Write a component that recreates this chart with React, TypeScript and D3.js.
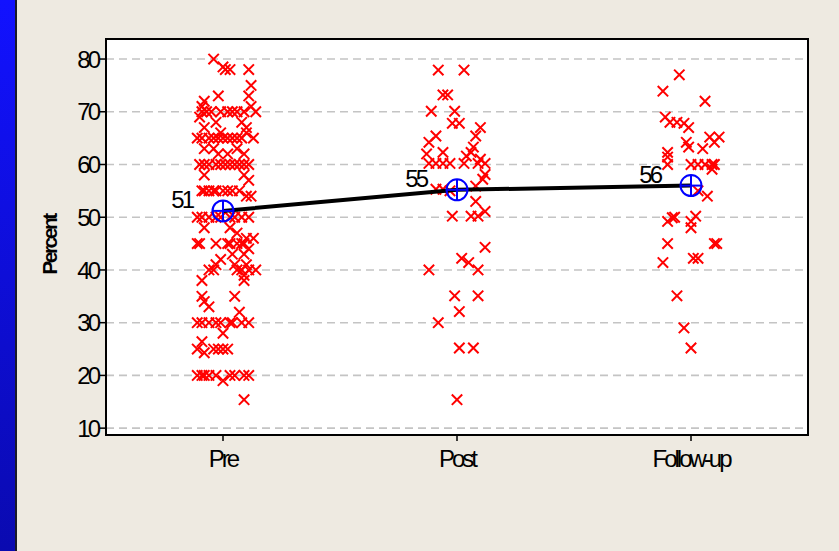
import React from "react";
import * as d3 from "d3";

const categories = ["Pre", "Post", "Follow-up"];
const yTicks = [10, 20, 30, 40, 50, 60, 70, 80];
const means = [51.2, 55.2, 56.0];
const meanLabels = ["51", "55", "56"];

// [jitter (hundredths of a category), percent]
const prePoints: [number, number][] = [
  [-4,80],[0,78.5],[1,78],[3,78],[11,78],[12,75],[11,73],[-2,73],[-8,72],[-9,71],[-9,70],[-7,70],[-5,70],[-1,70],[2,70],[4,70],[6,70],[9,70],[12,71],[14,70],[-10,69],[-8,67],[-3,68],[-1,66],[8,68],[10,67],
  [-11,65],[-9,65],[-6,65],[-4,65],[-2,65],[0,65],[2,65],[4,65],[6,65],[8,65],[10,66],[13,65],
  [-8,63],[-4,63],[-2,62],[2,62],[6,63],[9,62],
  [-10,60],[-8,60],[-6,60],[-3,60],[-1,60],[1,60],[3,60],[5,60],[7,60],[9,60],[11,60],
  [-8,58],[9,58],[11,57],
  [-9,55],[-8,55],[-6,55],[-4,55],[-3,55],[0,55],[2,55],[4,55],[7,55],
  [10,54],[12,54],
  [-11,50],[-9,50],[-6,50],[-3,50],[-1,50],[3,50],[5,50],[8,50],[11,50],
  [-8,48],[3,48],[6,47],[10,46],[13,46],
  [-11,45],[-10,45],[-3,45],[2,45],[3,45],[6,45],[8,45],[9,45],[11,44],
  [4,43],[9,43],[10,41],[-1,42],[-3,41],[5,41],[11,40],[14,40],
  [-6,40],[-4,40],[6,40],[8,40],[9,39],[-9,38],[9,38],
  [-9,35],[-8,34],[-6,33],[5,35],[7,32],
  [-11,30],[-9,30],[-6,30],[-3,30],[-1,30],[3,30],[4,30],[8,30],[11,30],[0,28],
  [-11,25],[-9,26.4],[-8,24.3],[-4,25],[-2,25],[0,25],[2,25],
  [-11,20],[-9,20],[-8,20],[-6,20],[-3,20],[0,19],[3,20],[5,20],[9,20],[11,20],
  [9,15.4],
];

const postPoints: [number, number][] = [
  [-8,77.9],[3,77.9],[-6,73.2],[-4,73.2],[-11,70.1],[-1,70.1],[-2,67.8],[1,67.8],[10,67],[8,65.4],[-9,65.4],[-12,64.2],[7,63.3],[6,62.3],[-6,62.3],[-13,62],[4,61.6],
  [-12,60.2],[-9,60.2],[-6,60.2],[-3,60.2],[3,60.2],[9,60.2],[12,60.2],[10,61],[12,58.1],[11,57.2],
  [-9,55.3],[-6,55.3],[-3,55],[8,55.9],[8,53],[12,51.1],[9,50.2],[-2,50.2],[6,50.2],
  [12,44.3],[2,42.2],[5,41.4],[9,40],[-12,40],[-1,35.1],[9,35.1],[1,32.1],[-8,30],[1,25.2],[7,25.2],[0,15.4],
];

const followPoints: [number, number][] = [
  [-5,77],[-12,73.9],[6,72],[-11,69],[-9,68],[-6,68],[-3,67.8],[-1,67],[8,65.2],[12,65.2],[10,64.2],[-2,64.2],[-1,63.3],[5,63],[-10,62.3],[-10,61.4],[-10,60],
  [0,60],[3,60],[6,60],[9,60],[10,60],[9,59.1],[3,55],[7,54],
  [-10,49.2],[-8,49.9],[-7,50],[0,49.2],[2,50.2],[0,48],
  [-10,45],[10,45],[11,45],[1,42.2],[3,42.2],[-12,41.4],[-6,35.1],[-3,29],[0,25.2],
];

const groups = [prePoints, postPoints, followPoints];

const W = 839;
const H = 551;
const plot = { left: 106, right: 808, top: 39, bottom: 435 };
const FONT = "'Liberation Sans', Arial, sans-serif";

export default function App() {
  const x = d3.scaleLinear().domain([0, 3]).range([plot.left, plot.right]);
  const y = d3.scaleLinear().domain([8.7, 83.8]).range([plot.bottom, plot.top]);
  const cx = (i: number, j = 0) => x(i + 0.5 + j / 100);

  const line = d3
    .line<number>()
    .x((_, i) => cx(i))
    .y((d) => y(d));

  const xs = 5.2;
  return (
    <svg
      width={W}
      height={H}
      style={{ position: "absolute", left: 0, top: 0, display: "block" }}
    >
      <defs>
        <linearGradient id="blueStrip" x1="0" y1="0" x2="0" y2="1">
          <stop offset="0" stopColor="#1212FF" />
          <stop offset="1" stopColor="#0A0AB0" />
        </linearGradient>
        <clipPath id="plotClip">
          <rect x={plot.left} y={plot.top} width={plot.right - plot.left} height={plot.bottom - plot.top} />
        </clipPath>
      </defs>
      <rect x={0} y={0} width={W} height={H} fill="#EEEAE1" />
      <rect x={0} y={0} width={15} height={H} fill="url(#blueStrip)" />
      <rect x={15} y={0} width={2} height={H} fill="#1a1a2a" />

      <rect
        x={plot.left}
        y={plot.top}
        width={plot.right - plot.left}
        height={plot.bottom - plot.top}
        fill="#ffffff"
      />
      {yTicks.map((t) => (
        <g key={t}>
          <line
            x1={plot.left}
            x2={plot.right}
            y1={y(t)}
            y2={y(t)}
            stroke="#C4C4C4"
            strokeWidth={1.6}
            strokeDasharray="8,5"
          />
          <line x1={plot.left - 6} x2={plot.left} y1={y(t)} y2={y(t)} stroke="#000" strokeWidth={1.5} />
          <text
            x={plot.left - 8}
            y={y(t)}
            dy="0.36em"
            textAnchor="end"
            fontFamily={FONT}
            fontSize={24}
            letterSpacing={-3}
            fill="#000"
          >
            {t}
          </text>
        </g>
      ))}
      {categories.map((c, i) => (
        <g key={c}>
          <line x1={cx(i)} x2={cx(i)} y1={plot.bottom} y2={plot.bottom + 6} stroke="#000" strokeWidth={1.5} />
          <text
            x={cx(i)}
            y={plot.bottom + 32}
            textAnchor="middle"
            fontFamily={FONT}
            fontSize={24}
            letterSpacing={-3}
            fill="#000"
          >
            {c}
          </text>
        </g>
      ))}
      <text
        transform={`translate(57, ${(plot.top + plot.bottom) / 2 + 8}) rotate(-90)`}
        textAnchor="middle"
        fontFamily={FONT}
        fontSize={21}
        fontWeight="bold"
        letterSpacing={-2.5}
        fill="#000"
      >
        Percent
      </text>

      <g clipPath="url(#plotClip)">
        {groups.map((pts, gi) =>
          pts.map(([j, v], k) => {
            const px = cx(gi, j);
            const py = y(v);
            return (
              <path
                key={`${gi}-${k}`}
                d={`M${px - xs},${py - xs}L${px + xs},${py + xs}M${px - xs},${py + xs}L${px + xs},${py - xs}`}
                stroke="#FF0000"
                strokeWidth={2}
                fill="none"
              />
            );
          })
        )}
        <path d={line(means) || ""} stroke="#000" strokeWidth={4} fill="none" />
        {means.map((m, i) => (
          <g key={i}>
            <circle cx={cx(i)} cy={y(m)} r={10.5} fill="none" stroke="#0000FF" strokeWidth={2} />
            <line x1={cx(i) - 10.5} x2={cx(i) + 10.5} y1={y(m)} y2={y(m)} stroke="#0000FF" strokeWidth={2} />
            <line x1={cx(i)} x2={cx(i)} y1={y(m) - 10.5} y2={y(m) + 10.5} stroke="#0000FF" strokeWidth={2} />
          </g>
        ))}
      </g>
      {means.map((m, i) => (
        <text
          key={i}
          x={cx(i) - 31}
          y={y(m) - 3}
          textAnchor="end"
          fontFamily={FONT}
          fontSize={24}
          letterSpacing={-3}
          fill="#000"
        >
          {meanLabels[i]}
        </text>
      ))}
      <rect
        x={plot.left}
        y={plot.top}
        width={plot.right - plot.left}
        height={plot.bottom - plot.top}
        fill="none"
        stroke="#000"
        strokeWidth={2}
      />
    </svg>
  );
}
